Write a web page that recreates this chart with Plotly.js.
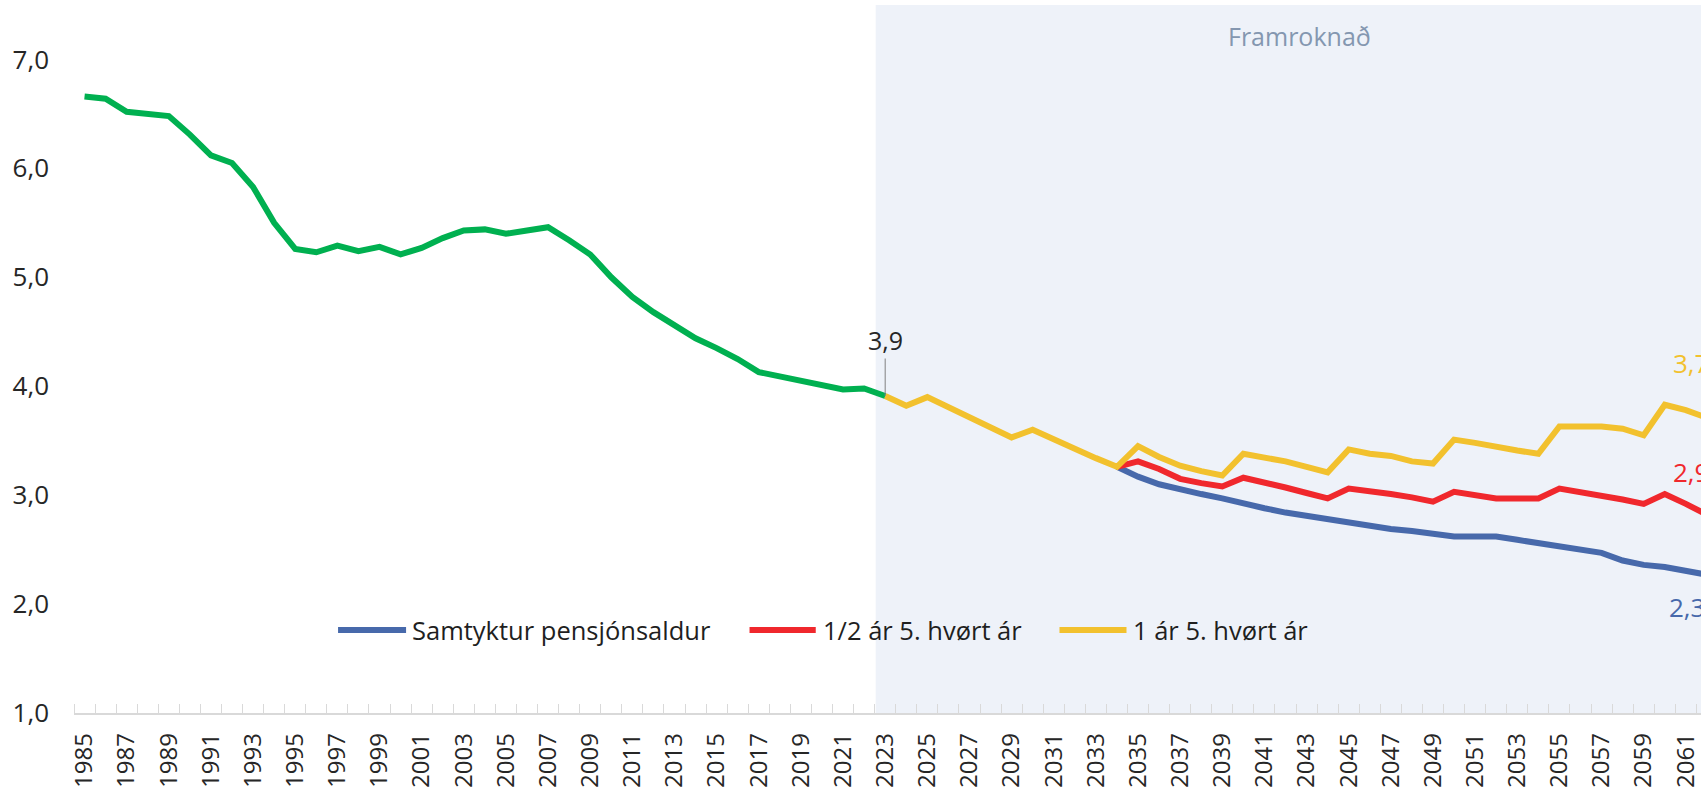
<!DOCTYPE html>
<html>
<head>
<meta charset="utf-8">
<script src="https://cdn.plot.ly/plotly-3.0.1.min.js"></script>
<style>
  html, body { margin: 0; padding: 0; background: #ffffff; }
  #chart { width: 1701px; height: 788px; }
</style>
</head>
<body>
<div id="chart"></div>
<script>
// ---- Data ----
const histYears = [1985,1986,1987,1988,1989,1990,1991,1992,1993,1994,
                   1995,1996,1997,1998,1999,2000,2001,2002,2003,2004,
                   2005,2006,2007,2008,2009,2010,2011,2012,2013,2014,
                   2015,2016,2017,2018,2019,2020,2021,2022,2023];
const histValues = [6.66,6.64,6.52,6.50,6.48,6.31,6.12,6.05,5.83,5.50,
                    5.26,5.23,5.29,5.24,5.28,5.21,5.27,5.36,5.43,5.44,
                    5.40,5.43,5.46,5.34,5.21,5.00,4.82,4.68,4.56,4.44,
                    4.35,4.25,4.13,4.09,4.04,4.01,3.97,3.98,3.91];

const commonYears = [2023,2024,2025,2026,2027,2028,2029,2030,2031,2032,2033,2034];
const commonValues = [3.91,3.82,3.90,3.81,3.72,3.63,3.53,3.60,3.51,3.42,3.34,3.26];

const tailYears = [2035,2036,2037,2038,2039,2040,2041,2042,2043,2044,
                   2045,2046,2047,2048,2049,2050,2051,2052,2053,2054,
                   2055,2056,2057,2058,2059,2060,2061,2062];
const blueTail = [3.17,3.10,3.05,3.01,2.97,2.92,2.88,2.84,2.81,2.78,
                  2.74,2.72,2.69,2.67,2.64,2.62,2.62,2.62,2.59,2.56,
                  2.53,2.50,2.47,2.40,2.36,2.34,2.31,2.27];
const redTail = [3.31,3.24,3.15,3.11,3.08,3.16,3.12,3.07,3.02,2.97,
                 3.06,3.04,3.01,2.98,2.94,3.03,3.00,2.97,2.97,2.97,
                 3.06,3.03,2.99,2.96,2.92,3.01,2.92,2.82];
const yellowTail = [3.45,3.35,3.27,3.22,3.18,3.38,3.35,3.31,3.26,3.21,
                    3.42,3.38,3.36,3.31,3.29,3.51,3.48,3.44,3.41,3.38,
                    3.63,3.63,3.63,3.61,3.55,3.83,3.78,3.71];

const seriesNames = ['Samtyktur pensjónsaldur', '1/2 ár 5. hvørt ár', '1 ár 5. hvørt ár'];
const endLabels = ['2,3', '2,9', '3,7'];
const startLabel = '3,9';
const shadeLabel = 'Framroknað';
const yTicks = [1,2,3,4,5,6,7];

// ---- Styles ----
const FONT = 'Open Sans, Noto Sans, sans-serif';
const cGreen = '#00b050', cBlue = '#4769ab', cRed = '#f0282d', cYellow = '#f2c12e';
const LW = 6;

// last point of the common part is the branching year (2034)
const branchYear = commonYears[commonYears.length - 1];
const branchValue = commonValues[commonValues.length - 1];

const traces = [
  { x: [branchYear].concat(tailYears), y: [branchValue].concat(blueTail), name: seriesNames[0],
    mode: 'lines', line: { color: cBlue, width: LW }, hoverinfo: 'x+y' },
  { x: [branchYear].concat(tailYears), y: [branchValue].concat(redTail), name: seriesNames[1],
    mode: 'lines', line: { color: cRed, width: LW }, hoverinfo: 'x+y' },
  { x: commonYears.concat(tailYears), y: commonValues.concat(yellowTail), name: seriesNames[2],
    mode: 'lines', line: { color: cYellow, width: LW }, hoverinfo: 'x+y' },
  { x: histYears, y: histValues, name: 'Søguligt',
    mode: 'lines', line: { color: cGreen, width: LW }, hoverinfo: 'x+y' }
];
traces.forEach(t => { t.showlegend = false; });

// custom legend (long line samples)
const legendY = 0.1172;
const legendItems = [
  { x0: 0.1623, x1: 0.2041, tx: 0.2065, color: cBlue, text: seriesNames[0] },
  { x0: 0.4152, x1: 0.4559, tx: 0.4591, color: cRed, text: seriesNames[1] },
  { x0: 0.6057, x1: 0.6469, tx: 0.6497, color: cYellow, text: seriesNames[2] }
];

const shapes = [
  { type: 'rect', xref: 'x', yref: 'paper', x0: 2022.55, x1: 2100, y0: 0, y1: 1,
    fillcolor: '#eef2f9', line: { width: 0 }, layer: 'below' }
];
legendItems.forEach(it => {
  shapes.push({ type: 'line', xref: 'paper', yref: 'paper', x0: it.x0, x1: it.x1, y0: legendY, y1: legendY,
    line: { color: it.color, width: 6 }, layer: 'above' });
});

const annotations = [
  { xref: 'paper', yref: 'paper', x: 0.7533, y: 0.956, text: shadeLabel, showarrow: false,
    xanchor: 'center', yanchor: 'middle', font: { family: FONT, size: 25, color: '#8497b0' } },
  { xref: 'x', yref: 'y', x: histYears[histYears.length - 1], y: histValues[histValues.length - 1],
    text: startLabel, showarrow: true, arrowhead: 0, arrowwidth: 1, arrowcolor: '#808080',
    ax: 0, ay: -56, standoff: 0, font: { family: FONT, size: 25, color: '#262626' } },
  { xref: 'paper', yref: 'paper', x: 0.9814, y: 0.4944, text: endLabels[2], showarrow: false,
    xanchor: 'left', yanchor: 'middle', font: { family: FONT, size: 26, color: cYellow } },
  { xref: 'paper', yref: 'paper', x: 0.9814, y: 0.3404, text: endLabels[1], showarrow: false,
    xanchor: 'left', yanchor: 'middle', font: { family: FONT, size: 26, color: cRed } },
  { xref: 'paper', yref: 'paper', x: 0.9789, y: 0.1497, text: endLabels[0], showarrow: false,
    xanchor: 'left', yanchor: 'middle', font: { family: FONT, size: 26, color: cBlue } }
];
legendItems.forEach(it => {
  annotations.push({ xref: 'paper', yref: 'paper', x: it.tx, y: legendY, text: it.text, showarrow: false,
    xanchor: 'left', yanchor: 'middle', font: { family: FONT, size: 25.5, color: '#1f1f1f' } });
});

const layout = {
  width: 1701, height: 788, autosize: false,
  margin: { l: 74, r: 0, t: 5, b: 75, pad: 0 },
  paper_bgcolor: '#ffffff', plot_bgcolor: '#ffffff',
  separators: ', ',
  showlegend: false,
  font: { family: FONT, color: '#262626' },
  xaxis: {
    type: 'linear', range: [1984.5, 2061.72], fixedrange: true,
    tickmode: 'linear', tick0: histYears[0], dtick: 2, tickformat: 'd',
    tickangle: -90, ticks: '', ticklabelstandoff: 9,
    tickfont: { family: FONT, size: 24, color: '#262626' },
    showline: true, linecolor: '#d9d9d9', linewidth: 1.5,
    showgrid: false, zeroline: false,
    minor: { tickmode: 'linear', tick0: 1984.5, dtick: 1, ticks: 'inside', ticklen: 9,
             tickcolor: '#d9d9d9', tickwidth: 1, showgrid: false }
  },
  yaxis: {
    range: [1, 7.5], fixedrange: true,
    tickmode: 'array', tickvals: yTicks, tickformat: '.1f',
    ticks: '', ticklabelstandoff: 24,
    tickfont: { family: FONT, size: 26, color: '#262626' },
    showline: false, showgrid: false, zeroline: false
  },
  shapes: shapes,
  annotations: annotations
};

Plotly.newPlot('chart', traces, layout, { displayModeBar: false, staticPlot: true });
</script>
</body>
</html>
